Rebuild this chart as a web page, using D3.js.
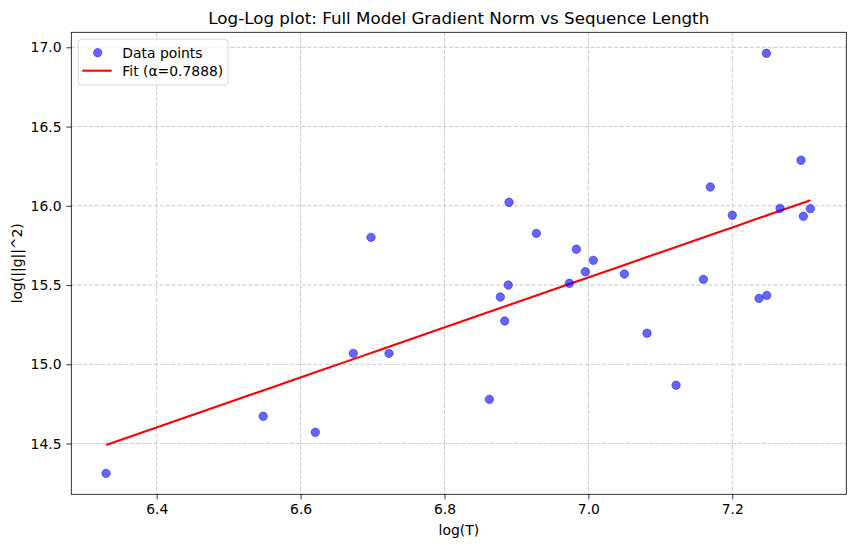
<!DOCTYPE html>
<html>
<head>
<meta charset="utf-8">
<script src="https://cdn.jsdelivr.net/npm/d3@7"></script>
<style>
  body { margin: 0; background: #fff; }
  svg { font-family: 'DejaVu Sans', sans-serif; }
</style>
</head>
<body>
<div id="chart"></div>
<script>
// log(T) and log(||g||^2)
var logT = [6.3296, 6.548, 6.6205, 6.6733, 6.7229, 6.6979, 6.8624, 6.8776, 6.8837, 6.8887,
	6.8897, 6.9277, 6.9833, 6.9958, 7.0069, 6.9736, 7.050, 7.0815, 7.1219, 7.1598,
	7.1695, 7.2001, 7.2372, 7.2479, 7.2474, 7.2664, 7.2956, 7.2988, 7.3086];
var logG = [14.312, 14.672, 14.571, 15.069, 15.069, 15.801, 14.779, 15.425, 15.273, 15.500,
	16.022, 15.826, 15.726, 15.584, 15.656, 15.511, 15.570, 15.196, 14.868, 15.536,
	16.119, 15.940, 15.416, 15.435, 16.962, 15.984, 16.287, 15.934, 15.982];

var alpha = 0.7888;      // fit on log(||g||^2) has slope 2*alpha
var intercept = 4.505;

var xTicks = [6.4, 6.6, 6.8, 7.0, 7.2];
var yTicks = [14.5, 15.0, 15.5, 16.0, 16.5, 17.0];

var width = 855, height = 547;
var margin = {top: 32.3, right: 8.7, bottom: 52.7, left: 71.3};
var w = width - margin.left - margin.right;
var h = height - margin.top - margin.bottom;

var svg = d3.select('#chart').append('svg')
	.attr('width', width)
	.attr('height', height);

var x = d3.scaleLinear().domain([6.2813, 7.3585]).range([0, w]);
var y = d3.scaleLinear().domain([14.18, 17.0946]).range([h, 0]);

var g = svg.append('g').attr('transform', 'translate(' + margin.left + ',' + margin.top + ')');

// grid
g.append('g').selectAll('line').data(xTicks).enter().append('line')
	.attr('x1', function(d) { return x(d); })
	.attr('x2', function(d) { return x(d); })
	.attr('y1', 0).attr('y2', h)
	.attr('stroke', '#c4c4c4').attr('stroke-width', 0.9)
	.attr('stroke-dasharray', '4.1,1.8');
g.append('g').selectAll('line').data(yTicks).enter().append('line')
	.attr('y1', function(d) { return y(d); })
	.attr('y2', function(d) { return y(d); })
	.attr('x1', 0).attr('x2', w)
	.attr('stroke', '#c4c4c4').attr('stroke-width', 0.9)
	.attr('stroke-dasharray', '4.1,1.8');

// fit line, drawn through the data x values in data order like plt.plot does
var fitLine = d3.line()
	.x(function(d) { return x(d); })
	.y(function(d) { return y(2 * alpha * d + intercept); });
g.append('path')
	.datum(logT)
	.attr('d', fitLine)
	.attr('fill', 'none')
	.attr('stroke', '#ff0000')
	.attr('stroke-width', 2.1);

// points
g.append('g').selectAll('circle').data(logT).enter().append('circle')
	.attr('cx', function(d) { return x(d); })
	.attr('cy', function(d, i) { return y(logG[i]); })
	.attr('r', 4.2)
	.attr('fill', '#0000ff')
	.attr('fill-opacity', 0.6)
	.attr('stroke', '#0000ff')
	.attr('stroke-opacity', 0.6)
	.attr('stroke-width', 0.8);

// axes
var xAxis = g.append('g')
	.attr('transform', 'translate(0,' + h + ')')
	.call(d3.axisBottom(x).tickValues(xTicks).tickFormat(d3.format('.1f')).tickSize(4.9).tickPadding(4.9));
var yAxis = g.append('g')
	.call(d3.axisLeft(y).tickValues(yTicks).tickFormat(d3.format('.1f')).tickSize(4.9).tickPadding(4.9));
[xAxis, yAxis].forEach(function(a) {
	a.select('.domain').remove();
	a.selectAll('line').attr('stroke', '#000').attr('stroke-width', 0.8);
	a.selectAll('text').attr('font-size', 13.9).attr('fill', '#000')
		.attr('font-family', "'DejaVu Sans', sans-serif");
});

// frame
g.append('rect')
	.attr('width', w).attr('height', h)
	.attr('fill', 'none').attr('stroke', '#000').attr('stroke-width', 0.8);

// labels
svg.append('text')
	.attr('x', margin.left + w / 2).attr('y', 23.5)
	.attr('text-anchor', 'middle')
	.attr('font-size', 16.7)
	.text('Log-Log plot: Full Model Gradient Norm vs Sequence Length');
svg.append('text')
	.attr('x', margin.left + w / 2).attr('y', 535)
	.attr('text-anchor', 'middle')
	.attr('font-size', 13.9)
	.text('log(T)');
svg.append('text')
	.attr('transform', 'translate(22,' + (margin.top + h / 2) + ') rotate(-90)')
	.attr('text-anchor', 'middle')
	.attr('font-size', 13.9)
	.text('log(||g||^2)');

// legend
var legend = svg.append('g').attr('transform', 'translate(78.3,39.3)');
legend.append('rect')
	.attr('width', 149.7).attr('height', 45.7)
	.attr('rx', 3)
	.attr('fill', '#fff').attr('fill-opacity', 0.8)
	.attr('stroke', '#d0d0d0').attr('stroke-width', 0.8);
legend.append('circle')
	.attr('cx', 19.4).attr('cy', 13.4).attr('r', 4.2)
	.attr('fill', '#0000ff').attr('fill-opacity', 0.6)
	.attr('stroke', '#0000ff').attr('stroke-opacity', 0.6).attr('stroke-width', 0.8);
legend.append('line')
	.attr('x1', 4).attr('x2', 33.4).attr('y1', 31.4).attr('y2', 31.4)
	.attr('stroke', '#ff0000').attr('stroke-width', 2.1);
legend.append('text').attr('x', 44).attr('y', 18.3).attr('font-size', 13.9).text('Data points');
legend.append('text').attr('x', 44).attr('y', 36.3).attr('font-size', 13.9).text('Fit (α=' + alpha.toFixed(4) + ')');
</script>
</body>
</html>
